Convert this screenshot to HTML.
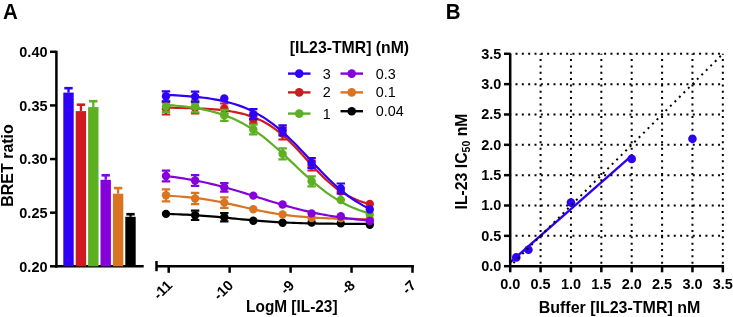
<!DOCTYPE html><html><head><meta charset="utf-8"><style>html,body{margin:0;padding:0;background:#fff;}svg{display:block;will-change:transform;}text{font-family:"Liberation Sans",sans-serif;}</style></head><body>
<svg width="733" height="317" viewBox="0 0 733 317">
<text transform="translate(3,18.8) scale(1,1.09)" font-size="20.5" font-weight="bold">A</text>
<text transform="translate(445.7,18.8) scale(1,1.09)" font-size="20.5" font-weight="bold">B</text>
<line x1="56.4" y1="50.8" x2="56.4" y2="267.55" stroke="#000" stroke-width="2.5"/>
<line x1="50" y1="51.80" x2="56.4" y2="51.80" stroke="#000" stroke-width="2.5"/>
<text transform="translate(47.5,57.00) scale(1,1.07)" font-size="14.5" font-weight="bold" text-anchor="end">0.40</text>
<line x1="50" y1="105.43" x2="56.4" y2="105.43" stroke="#000" stroke-width="2.5"/>
<text transform="translate(47.5,110.63) scale(1,1.07)" font-size="14.5" font-weight="bold" text-anchor="end">0.35</text>
<line x1="50" y1="159.05" x2="56.4" y2="159.05" stroke="#000" stroke-width="2.5"/>
<text transform="translate(47.5,164.25) scale(1,1.07)" font-size="14.5" font-weight="bold" text-anchor="end">0.30</text>
<line x1="50" y1="212.68" x2="56.4" y2="212.68" stroke="#000" stroke-width="2.5"/>
<text transform="translate(47.5,217.88) scale(1,1.07)" font-size="14.5" font-weight="bold" text-anchor="end">0.25</text>
<line x1="50" y1="266.30" x2="56.4" y2="266.30" stroke="#000" stroke-width="2.5"/>
<text transform="translate(47.5,271.50) scale(1,1.07)" font-size="14.5" font-weight="bold" text-anchor="end">0.20</text>
<line x1="55.15" y1="266.3" x2="143.7" y2="266.3" stroke="#000" stroke-width="2.5"/>
<text transform="translate(12.5,165.5) rotate(-90)" font-size="16" font-weight="bold" text-anchor="middle">BRET ratio</text>
<rect x="63.3" y="92.6" width="10.4" height="173.70000000000002" fill="#2f00f5"/>
<line x1="68.5" y1="87.9" x2="68.5" y2="92.6" stroke="#2f00f5" stroke-width="2.3"/>
<line x1="64.3" y1="88.2" x2="72.7" y2="88.2" stroke="#2f00f5" stroke-width="2.6"/>
<rect x="75.7" y="111.1" width="10.4" height="155.20000000000002" fill="#cf1a1f"/>
<line x1="80.9" y1="104.4" x2="80.9" y2="111.1" stroke="#cf1a1f" stroke-width="2.3"/>
<line x1="76.7" y1="104.7" x2="85.10000000000001" y2="104.7" stroke="#cf1a1f" stroke-width="2.6"/>
<rect x="88.1" y="107.1" width="10.4" height="159.20000000000002" fill="#5cb021"/>
<line x1="93.3" y1="100.9" x2="93.3" y2="107.1" stroke="#5cb021" stroke-width="2.3"/>
<line x1="89.1" y1="101.2" x2="97.5" y2="101.2" stroke="#5cb021" stroke-width="2.6"/>
<rect x="100.5" y="179.8" width="10.4" height="86.5" fill="#8500da"/>
<line x1="105.7" y1="175.0" x2="105.7" y2="179.8" stroke="#8500da" stroke-width="2.3"/>
<line x1="101.5" y1="175.3" x2="109.9" y2="175.3" stroke="#8500da" stroke-width="2.6"/>
<rect x="112.9" y="193.7" width="10.4" height="72.60000000000002" fill="#da7421"/>
<line x1="118.10000000000001" y1="187.8" x2="118.10000000000001" y2="193.7" stroke="#da7421" stroke-width="2.3"/>
<line x1="113.9" y1="188.10000000000002" x2="122.30000000000001" y2="188.10000000000002" stroke="#da7421" stroke-width="2.6"/>
<rect x="125.3" y="216.8" width="10.4" height="49.5" fill="#000000"/>
<line x1="130.5" y1="213.9" x2="130.5" y2="216.8" stroke="#000000" stroke-width="2.3"/>
<line x1="126.3" y1="214.20000000000002" x2="134.7" y2="214.20000000000002" stroke="#000000" stroke-width="2.6"/>
<line x1="156.5" y1="266.3" x2="413.75" y2="266.3" stroke="#000" stroke-width="2.5"/>
<line x1="156.5" y1="261" x2="156.5" y2="271.2" stroke="#000" stroke-width="2.5"/>
<line x1="168.7" y1="266.3" x2="168.7" y2="272.8" stroke="#000" stroke-width="2.5"/>
<text transform="translate(173.20,286.2) rotate(-45)" font-size="14.5" font-weight="bold" text-anchor="end">-11</text>
<line x1="229.64999999999998" y1="266.3" x2="229.64999999999998" y2="272.8" stroke="#000" stroke-width="2.5"/>
<text transform="translate(234.15,286.2) rotate(-45)" font-size="14.5" font-weight="bold" text-anchor="end">-10</text>
<line x1="290.6" y1="266.3" x2="290.6" y2="272.8" stroke="#000" stroke-width="2.5"/>
<text transform="translate(295.10,286.2) rotate(-45)" font-size="14.5" font-weight="bold" text-anchor="end">-9</text>
<line x1="351.55" y1="266.3" x2="351.55" y2="272.8" stroke="#000" stroke-width="2.5"/>
<text transform="translate(356.05,286.2) rotate(-45)" font-size="14.5" font-weight="bold" text-anchor="end">-8</text>
<line x1="412.5" y1="265.05" x2="412.5" y2="272.8" stroke="#000" stroke-width="2.5"/>
<text transform="translate(417.00,286.2) rotate(-45)" font-size="14.5" font-weight="bold" text-anchor="end">-7</text>
<text transform="translate(291.8,311.6) scale(1,1.05)" font-size="15.4" font-weight="bold" text-anchor="middle">LogM [IL-23]</text>
<path d="M166.00,107.68 L169.45,107.72 L172.91,107.76 L176.36,107.82 L179.82,107.88 L183.27,107.95 L186.73,108.04 L190.18,108.13 L193.63,108.25 L197.09,108.38 L200.54,108.53 L204.00,108.70 L207.45,108.90 L210.91,109.13 L214.36,109.40 L217.81,109.71 L221.27,110.07 L224.72,110.48 L228.18,110.95 L231.63,111.49 L235.08,112.11 L238.54,112.82 L241.99,113.63 L245.45,114.55 L248.90,115.60 L252.36,116.78 L255.81,118.12 L259.26,119.63 L262.72,121.31 L266.17,123.19 L269.63,125.27 L273.08,127.56 L276.54,130.07 L279.99,132.80 L283.44,135.74 L286.90,138.88 L290.35,142.20 L293.81,145.69 L297.26,149.31 L300.72,153.04 L304.17,156.83 L307.62,160.64 L311.08,164.43 L314.53,168.17 L317.99,171.80 L321.44,175.30 L324.89,178.65 L328.35,181.80 L331.80,184.76 L335.26,187.51 L338.71,190.03 L342.17,192.35 L345.62,194.45 L349.07,196.34 L352.53,198.04 L355.98,199.57 L359.44,200.92 L362.89,202.12 L366.35,203.18 L369.80,204.11" fill="none" stroke="#cf1a1f" stroke-width="2.2"/>
<path d="M166.00,102.50V114.50M161.80,102.50h8.4M161.80,114.50h8.4" stroke="#cf1a1f" stroke-width="2.2" fill="none"/>
<circle cx="166.00" cy="108.50" r="4.2" fill="#cf1a1f"/>
<path d="M195.10,102.30V113.30M190.90,102.30h8.4M190.90,113.30h8.4" stroke="#cf1a1f" stroke-width="2.2" fill="none"/>
<circle cx="195.10" cy="107.80" r="4.2" fill="#cf1a1f"/>
<path d="M224.30,103.50V113.50M220.10,103.50h8.4M220.10,113.50h8.4" stroke="#cf1a1f" stroke-width="2.2" fill="none"/>
<circle cx="224.30" cy="108.50" r="4.2" fill="#cf1a1f"/>
<path d="M253.30,116.30V123.30M249.10,116.30h8.4M249.10,123.30h8.4" stroke="#cf1a1f" stroke-width="2.2" fill="none"/>
<circle cx="253.30" cy="119.80" r="4.2" fill="#cf1a1f"/>
<path d="M282.60,127.50V139.50M278.40,127.50h8.4M278.40,139.50h8.4" stroke="#cf1a1f" stroke-width="2.2" fill="none"/>
<circle cx="282.60" cy="133.50" r="4.2" fill="#cf1a1f"/>
<path d="M311.60,160.50V170.50M307.40,160.50h8.4M307.40,170.50h8.4" stroke="#cf1a1f" stroke-width="2.2" fill="none"/>
<circle cx="311.60" cy="165.50" r="4.2" fill="#cf1a1f"/>
<circle cx="340.80" cy="191.50" r="4.2" fill="#cf1a1f"/>
<circle cx="369.80" cy="204.00" r="4.2" fill="#cf1a1f"/>
<path d="M166.00,213.89 L169.45,213.99 L172.91,214.11 L176.36,214.24 L179.82,214.38 L183.27,214.53 L186.73,214.71 L190.18,214.89 L193.63,215.09 L197.09,215.31 L200.54,215.55 L204.00,215.80 L207.45,216.07 L210.91,216.35 L214.36,216.65 L217.81,216.96 L221.27,217.28 L224.72,217.61 L228.18,217.95 L231.63,218.29 L235.08,218.63 L238.54,218.98 L241.99,219.32 L245.45,219.65 L248.90,219.97 L252.36,220.29 L255.81,220.59 L259.26,220.88 L262.72,221.16 L266.17,221.41 L269.63,221.65 L273.08,221.88 L276.54,222.09 L279.99,222.28 L283.44,222.46 L286.90,222.62 L290.35,222.77 L293.81,222.90 L297.26,223.02 L300.72,223.13 L304.17,223.23 L307.62,223.32 L311.08,223.40 L314.53,223.47 L317.99,223.53 L321.44,223.59 L324.89,223.64 L328.35,223.68 L331.80,223.72 L335.26,223.76 L338.71,223.79 L342.17,223.82 L345.62,223.84 L349.07,223.87 L352.53,223.89 L355.98,223.90 L359.44,223.92 L362.89,223.93 L366.35,223.94 L369.80,223.95" fill="none" stroke="#000000" stroke-width="2.2"/>
<circle cx="166.00" cy="213.90" r="4.2" fill="#000000"/>
<path d="M195.10,210.60V220.00M190.90,210.60h8.4M190.90,220.00h8.4" stroke="#000000" stroke-width="2.2" fill="none"/>
<circle cx="195.10" cy="215.30" r="4.2" fill="#000000"/>
<path d="M224.30,213.00V221.40M220.10,213.00h8.4M220.10,221.40h8.4" stroke="#000000" stroke-width="2.2" fill="none"/>
<circle cx="224.30" cy="217.20" r="4.2" fill="#000000"/>
<circle cx="253.30" cy="220.70" r="4.2" fill="#000000"/>
<circle cx="282.60" cy="222.80" r="4.2" fill="#000000"/>
<circle cx="311.60" cy="222.50" r="4.2" fill="#000000"/>
<circle cx="340.80" cy="223.40" r="4.2" fill="#000000"/>
<circle cx="369.80" cy="224.80" r="4.2" fill="#000000"/>
<path d="M166.00,195.60 L169.45,195.79 L172.91,196.00 L176.36,196.23 L179.82,196.49 L183.27,196.78 L186.73,197.09 L190.18,197.44 L193.63,197.82 L197.09,198.24 L200.54,198.69 L204.00,199.18 L207.45,199.71 L210.91,200.27 L214.36,200.88 L217.81,201.52 L221.27,202.19 L224.72,202.89 L228.18,203.62 L231.63,204.37 L235.08,205.15 L238.54,205.93 L241.99,206.72 L245.45,207.51 L248.90,208.29 L252.36,209.06 L255.81,209.81 L259.26,210.55 L262.72,211.25 L266.17,211.92 L269.63,212.56 L273.08,213.17 L276.54,213.73 L279.99,214.26 L283.44,214.75 L286.90,215.21 L290.35,215.62 L293.81,216.01 L297.26,216.35 L300.72,216.67 L304.17,216.96 L307.62,217.22 L311.08,217.45 L314.53,217.66 L317.99,217.85 L321.44,218.02 L324.89,218.17 L328.35,218.31 L331.80,218.43 L335.26,218.54 L338.71,218.63 L342.17,218.72 L345.62,218.79 L349.07,218.86 L352.53,218.92 L355.98,218.97 L359.44,219.02 L362.89,219.06 L366.35,219.10 L369.80,219.13" fill="none" stroke="#da7421" stroke-width="2.2"/>
<path d="M166.00,189.30V201.30M161.80,189.30h8.4M161.80,201.30h8.4" stroke="#da7421" stroke-width="2.2" fill="none"/>
<circle cx="166.00" cy="195.30" r="4.2" fill="#da7421"/>
<path d="M195.10,192.80V204.20M190.90,192.80h8.4M190.90,204.20h8.4" stroke="#da7421" stroke-width="2.2" fill="none"/>
<circle cx="195.10" cy="198.50" r="4.2" fill="#da7421"/>
<path d="M224.30,197.30V207.90M220.10,197.30h8.4M220.10,207.90h8.4" stroke="#da7421" stroke-width="2.2" fill="none"/>
<circle cx="224.30" cy="202.60" r="4.2" fill="#da7421"/>
<circle cx="253.30" cy="209.20" r="4.2" fill="#da7421"/>
<circle cx="282.60" cy="214.50" r="4.2" fill="#da7421"/>
<circle cx="311.60" cy="218.10" r="4.2" fill="#da7421"/>
<circle cx="340.80" cy="218.40" r="4.2" fill="#da7421"/>
<circle cx="369.80" cy="219.00" r="4.2" fill="#da7421"/>
<path d="M166.00,104.93 L169.45,105.17 L172.91,105.44 L176.36,105.74 L179.82,106.07 L183.27,106.44 L186.73,106.85 L190.18,107.30 L193.63,107.81 L197.09,108.36 L200.54,108.97 L204.00,109.65 L207.45,110.39 L210.91,111.21 L214.36,112.11 L217.81,113.10 L221.27,114.18 L224.72,115.36 L228.18,116.65 L231.63,118.05 L235.08,119.57 L238.54,121.21 L241.99,122.98 L245.45,124.89 L248.90,126.93 L252.36,129.12 L255.81,131.44 L259.26,133.89 L262.72,136.48 L266.17,139.20 L269.63,142.04 L273.08,144.98 L276.54,148.03 L279.99,151.16 L283.44,154.35 L286.90,157.60 L290.35,160.88 L293.81,164.17 L297.26,167.45 L300.72,170.70 L304.17,173.91 L307.62,177.06 L311.08,180.13 L314.53,183.10 L317.99,185.96 L321.44,188.71 L324.89,191.33 L328.35,193.82 L331.80,196.17 L335.26,198.39 L338.71,200.46 L342.17,202.40 L345.62,204.21 L349.07,205.88 L352.53,207.43 L355.98,208.86 L359.44,210.17 L362.89,211.38 L366.35,212.48 L369.80,213.49" fill="none" stroke="#5cb021" stroke-width="2.2"/>
<path d="M166.00,100.90V111.90M161.80,100.90h8.4M161.80,111.90h8.4" stroke="#5cb021" stroke-width="2.2" fill="none"/>
<circle cx="166.00" cy="106.40" r="4.2" fill="#5cb021"/>
<path d="M195.10,100.30V112.30M190.90,100.30h8.4M190.90,112.30h8.4" stroke="#5cb021" stroke-width="2.2" fill="none"/>
<circle cx="195.10" cy="106.30" r="4.2" fill="#5cb021"/>
<path d="M224.30,109.90V120.90M220.10,109.90h8.4M220.10,120.90h8.4" stroke="#5cb021" stroke-width="2.2" fill="none"/>
<circle cx="224.30" cy="115.40" r="4.2" fill="#5cb021"/>
<path d="M253.30,124.70V134.30M249.10,124.70h8.4M249.10,134.30h8.4" stroke="#5cb021" stroke-width="2.2" fill="none"/>
<circle cx="253.30" cy="129.50" r="4.2" fill="#5cb021"/>
<path d="M282.60,148.40V159.40M278.40,148.40h8.4M278.40,159.40h8.4" stroke="#5cb021" stroke-width="2.2" fill="none"/>
<circle cx="282.60" cy="153.90" r="4.2" fill="#5cb021"/>
<path d="M311.60,176.30V186.30M307.40,176.30h8.4M307.40,186.30h8.4" stroke="#5cb021" stroke-width="2.2" fill="none"/>
<circle cx="311.60" cy="181.30" r="4.2" fill="#5cb021"/>
<circle cx="340.80" cy="200.00" r="4.2" fill="#5cb021"/>
<circle cx="369.80" cy="214.40" r="4.2" fill="#5cb021"/>
<path d="M166.00,94.91 L169.45,95.05 L172.91,95.21 L176.36,95.39 L179.82,95.58 L183.27,95.80 L186.73,96.04 L190.18,96.32 L193.63,96.62 L197.09,96.96 L200.54,97.33 L204.00,97.75 L207.45,98.21 L210.91,98.73 L214.36,99.30 L217.81,99.93 L221.27,100.63 L224.72,101.41 L228.18,102.27 L231.63,103.21 L235.08,104.25 L238.54,105.40 L241.99,106.65 L245.45,108.03 L248.90,109.53 L252.36,111.17 L255.81,112.94 L259.26,114.87 L262.72,116.94 L266.17,119.18 L269.63,121.57 L273.08,124.13 L276.54,126.84 L279.99,129.71 L283.44,132.73 L286.90,135.89 L290.35,139.18 L293.81,142.59 L297.26,146.10 L300.72,149.69 L304.17,153.33 L307.62,157.02 L311.08,160.72 L314.53,164.42 L317.99,168.08 L321.44,171.69 L324.89,175.23 L328.35,178.67 L331.80,182.00 L335.26,185.20 L338.71,188.26 L342.17,191.18 L345.62,193.94 L349.07,196.55 L352.53,198.99 L355.98,201.28 L359.44,203.40 L362.89,205.37 L366.35,207.19 L369.80,208.87" fill="none" stroke="#2f00f5" stroke-width="2.2"/>
<path d="M166.00,91.30V101.30M161.80,91.30h8.4M161.80,101.30h8.4" stroke="#2f00f5" stroke-width="2.2" fill="none"/>
<circle cx="166.00" cy="96.30" r="4.2" fill="#2f00f5"/>
<path d="M195.10,91.60V101.60M190.90,91.60h8.4M190.90,101.60h8.4" stroke="#2f00f5" stroke-width="2.2" fill="none"/>
<circle cx="195.10" cy="96.60" r="4.2" fill="#2f00f5"/>
<circle cx="224.30" cy="98.40" r="4.2" fill="#2f00f5"/>
<path d="M253.30,109.20V119.20M249.10,109.20h8.4M249.10,119.20h8.4" stroke="#2f00f5" stroke-width="2.2" fill="none"/>
<circle cx="253.30" cy="114.20" r="4.2" fill="#2f00f5"/>
<path d="M282.60,125.30V135.30M278.40,125.30h8.4M278.40,135.30h8.4" stroke="#2f00f5" stroke-width="2.2" fill="none"/>
<circle cx="282.60" cy="130.30" r="4.2" fill="#2f00f5"/>
<path d="M311.60,158.00V168.00M307.40,158.00h8.4M307.40,168.00h8.4" stroke="#2f00f5" stroke-width="2.2" fill="none"/>
<circle cx="311.60" cy="163.00" r="4.2" fill="#2f00f5"/>
<path d="M340.80,183.50V193.50M336.60,183.50h8.4M336.60,193.50h8.4" stroke="#2f00f5" stroke-width="2.2" fill="none"/>
<circle cx="340.80" cy="188.50" r="4.2" fill="#2f00f5"/>
<circle cx="369.80" cy="209.50" r="4.2" fill="#2f00f5"/>
<path d="M166.00,176.06 L169.45,176.47 L172.91,176.91 L176.36,177.38 L179.82,177.88 L183.27,178.41 L186.73,178.97 L190.18,179.57 L193.63,180.19 L197.09,180.85 L200.54,181.54 L204.00,182.27 L207.45,183.03 L210.91,183.83 L214.36,184.65 L217.81,185.51 L221.27,186.40 L224.72,187.33 L228.18,188.28 L231.63,189.25 L235.08,190.25 L238.54,191.27 L241.99,192.32 L245.45,193.37 L248.90,194.44 L252.36,195.52 L255.81,196.61 L259.26,197.70 L262.72,198.78 L266.17,199.86 L269.63,200.94 L273.08,202.00 L276.54,203.05 L279.99,204.08 L283.44,205.09 L286.90,206.08 L290.35,207.04 L293.81,207.97 L297.26,208.87 L300.72,209.75 L304.17,210.59 L307.62,211.39 L311.08,212.17 L314.53,212.91 L317.99,213.62 L321.44,214.29 L324.89,214.93 L328.35,215.53 L331.80,216.11 L335.26,216.65 L338.71,217.16 L342.17,217.64 L345.62,218.10 L349.07,218.52 L352.53,218.92 L355.98,219.30 L359.44,219.65 L362.89,219.97 L366.35,220.28 L369.80,220.57" fill="none" stroke="#8500da" stroke-width="2.2"/>
<path d="M166.00,170.60V181.40M161.80,170.60h8.4M161.80,181.40h8.4" stroke="#8500da" stroke-width="2.2" fill="none"/>
<circle cx="166.00" cy="176.00" r="4.2" fill="#8500da"/>
<path d="M195.10,175.10V185.90M190.90,175.10h8.4M190.90,185.90h8.4" stroke="#8500da" stroke-width="2.2" fill="none"/>
<circle cx="195.10" cy="180.50" r="4.2" fill="#8500da"/>
<path d="M224.30,183.10V191.70M220.10,183.10h8.4M220.10,191.70h8.4" stroke="#8500da" stroke-width="2.2" fill="none"/>
<circle cx="224.30" cy="187.40" r="4.2" fill="#8500da"/>
<circle cx="253.30" cy="195.60" r="4.2" fill="#8500da"/>
<circle cx="282.60" cy="204.50" r="4.2" fill="#8500da"/>
<circle cx="311.60" cy="213.40" r="4.2" fill="#8500da"/>
<circle cx="340.80" cy="216.30" r="4.2" fill="#8500da"/>
<circle cx="369.80" cy="221.00" r="4.2" fill="#8500da"/>
<text transform="translate(289.8,53.2) scale(1,1.07)" font-size="15.8" font-weight="bold">[IL23-TMR] (nM)</text>
<line x1="288" y1="73.6" x2="310.5" y2="73.6" stroke="#2f00f5" stroke-width="2.4"/>
<circle cx="299.2" cy="73.6" r="4.3" fill="#2f00f5"/>
<text transform="translate(322.7,78.60) scale(1,1.05)" font-size="14.4">3</text>
<line x1="288" y1="92.4" x2="310.5" y2="92.4" stroke="#cf1a1f" stroke-width="2.4"/>
<circle cx="299.2" cy="92.4" r="4.3" fill="#cf1a1f"/>
<text transform="translate(322.7,97.40) scale(1,1.05)" font-size="14.4">2</text>
<line x1="288" y1="113.6" x2="310.5" y2="113.6" stroke="#5cb021" stroke-width="2.4"/>
<circle cx="299.2" cy="113.6" r="4.3" fill="#5cb021"/>
<text transform="translate(322.7,118.60) scale(1,1.05)" font-size="14.4">1</text>
<line x1="340.5" y1="73.6" x2="363.0" y2="73.6" stroke="#8500da" stroke-width="2.4"/>
<circle cx="351.7" cy="73.6" r="4.3" fill="#8500da"/>
<text transform="translate(375.7,78.60) scale(1,1.05)" font-size="14.4">0.3</text>
<line x1="340.5" y1="92.4" x2="363.0" y2="92.4" stroke="#da7421" stroke-width="2.4"/>
<circle cx="351.7" cy="92.4" r="4.3" fill="#da7421"/>
<text transform="translate(375.7,97.40) scale(1,1.05)" font-size="14.4">0.1</text>
<line x1="340.5" y1="111.2" x2="363.0" y2="111.2" stroke="#000000" stroke-width="2.4"/>
<circle cx="351.7" cy="111.2" r="4.3" fill="#000000"/>
<text transform="translate(375.7,116.20) scale(1,1.05)" font-size="14.4">0.04</text>
<line x1="510.2" y1="262.3" x2="631.5" y2="155.9" stroke="#2f00f5" stroke-width="2.4"/>
<line x1="540.58" y1="53.78" x2="540.58" y2="266.20" stroke="#000" stroke-width="2" stroke-dasharray="2 4.33" stroke-dashoffset="-5.3"/>
<line x1="510.20" y1="235.85" x2="722.83" y2="235.85" stroke="#000" stroke-width="2" stroke-dasharray="2 4.33" stroke-dashoffset="-5.3"/>
<line x1="570.95" y1="53.78" x2="570.95" y2="266.20" stroke="#000" stroke-width="2" stroke-dasharray="2 4.33" stroke-dashoffset="-5.3"/>
<line x1="510.20" y1="205.51" x2="722.83" y2="205.51" stroke="#000" stroke-width="2" stroke-dasharray="2 4.33" stroke-dashoffset="-5.3"/>
<line x1="601.33" y1="53.78" x2="601.33" y2="266.20" stroke="#000" stroke-width="2" stroke-dasharray="2 4.33" stroke-dashoffset="-5.3"/>
<line x1="510.20" y1="175.16" x2="722.83" y2="175.16" stroke="#000" stroke-width="2" stroke-dasharray="2 4.33" stroke-dashoffset="-5.3"/>
<line x1="631.70" y1="53.78" x2="631.70" y2="266.20" stroke="#000" stroke-width="2" stroke-dasharray="2 4.33" stroke-dashoffset="-5.3"/>
<line x1="510.20" y1="144.82" x2="722.83" y2="144.82" stroke="#000" stroke-width="2" stroke-dasharray="2 4.33" stroke-dashoffset="-5.3"/>
<line x1="662.08" y1="53.78" x2="662.08" y2="266.20" stroke="#000" stroke-width="2" stroke-dasharray="2 4.33" stroke-dashoffset="-5.3"/>
<line x1="510.20" y1="114.47" x2="722.83" y2="114.47" stroke="#000" stroke-width="2" stroke-dasharray="2 4.33" stroke-dashoffset="-5.3"/>
<line x1="692.45" y1="53.78" x2="692.45" y2="266.20" stroke="#000" stroke-width="2" stroke-dasharray="2 4.33" stroke-dashoffset="-5.3"/>
<line x1="510.20" y1="84.13" x2="722.83" y2="84.13" stroke="#000" stroke-width="2" stroke-dasharray="2 4.33" stroke-dashoffset="-5.3"/>
<line x1="722.83" y1="53.78" x2="722.83" y2="266.20" stroke="#000" stroke-width="2" stroke-dasharray="2 4.33" stroke-dashoffset="-5.3"/>
<line x1="510.20" y1="53.78" x2="722.83" y2="53.78" stroke="#000" stroke-width="2" stroke-dasharray="2 4.33" stroke-dashoffset="-5.3"/>
<circle cx="516.27" cy="257.4" r="4.3" fill="#2f00f5"/>
<circle cx="528.42" cy="249.8" r="4.3" fill="#2f00f5"/>
<circle cx="570.95" cy="202.5" r="4.3" fill="#2f00f5"/>
<circle cx="631.70" cy="158.9" r="4.3" fill="#2f00f5"/>
<circle cx="692.45" cy="138.7" r="4.3" fill="#2f00f5"/>
<line x1="510.2" y1="266.2" x2="722.83" y2="53.78" stroke="#000" stroke-width="2" stroke-dasharray="2 4.33" stroke-dashoffset="1.8"/>
<line x1="510.2" y1="53.785" x2="510.2" y2="267.45" stroke="#000" stroke-width="2.5"/>
<line x1="508.95" y1="266.2" x2="724.075" y2="266.2" stroke="#000" stroke-width="2.5"/>
<line x1="504" y1="266.20" x2="510.2" y2="266.20" stroke="#000" stroke-width="2.5"/>
<text transform="translate(501.3,271.00) scale(1,1.07)" font-size="14.5" font-weight="bold" text-anchor="end">0.0</text>
<line x1="510.20" y1="266.2" x2="510.20" y2="272.3" stroke="#000" stroke-width="2.5"/>
<text transform="translate(510.20,289.1) scale(1,1.07)" font-size="14.5" font-weight="bold" text-anchor="middle">0.0</text>
<line x1="504" y1="235.85" x2="510.2" y2="235.85" stroke="#000" stroke-width="2.5"/>
<text transform="translate(501.3,240.66) scale(1,1.07)" font-size="14.5" font-weight="bold" text-anchor="end">0.5</text>
<line x1="540.58" y1="266.2" x2="540.58" y2="272.3" stroke="#000" stroke-width="2.5"/>
<text transform="translate(540.58,289.1) scale(1,1.07)" font-size="14.5" font-weight="bold" text-anchor="middle">0.5</text>
<line x1="504" y1="205.51" x2="510.2" y2="205.51" stroke="#000" stroke-width="2.5"/>
<text transform="translate(501.3,210.31) scale(1,1.07)" font-size="14.5" font-weight="bold" text-anchor="end">1.0</text>
<line x1="570.95" y1="266.2" x2="570.95" y2="272.3" stroke="#000" stroke-width="2.5"/>
<text transform="translate(570.95,289.1) scale(1,1.07)" font-size="14.5" font-weight="bold" text-anchor="middle">1.0</text>
<line x1="504" y1="175.16" x2="510.2" y2="175.16" stroke="#000" stroke-width="2.5"/>
<text transform="translate(501.3,179.97) scale(1,1.07)" font-size="14.5" font-weight="bold" text-anchor="end">1.5</text>
<line x1="601.33" y1="266.2" x2="601.33" y2="272.3" stroke="#000" stroke-width="2.5"/>
<text transform="translate(601.33,289.1) scale(1,1.07)" font-size="14.5" font-weight="bold" text-anchor="middle">1.5</text>
<line x1="504" y1="144.82" x2="510.2" y2="144.82" stroke="#000" stroke-width="2.5"/>
<text transform="translate(501.3,149.62) scale(1,1.07)" font-size="14.5" font-weight="bold" text-anchor="end">2.0</text>
<line x1="631.70" y1="266.2" x2="631.70" y2="272.3" stroke="#000" stroke-width="2.5"/>
<text transform="translate(631.70,289.1) scale(1,1.07)" font-size="14.5" font-weight="bold" text-anchor="middle">2.0</text>
<line x1="504" y1="114.47" x2="510.2" y2="114.47" stroke="#000" stroke-width="2.5"/>
<text transform="translate(501.3,119.27) scale(1,1.07)" font-size="14.5" font-weight="bold" text-anchor="end">2.5</text>
<line x1="662.08" y1="266.2" x2="662.08" y2="272.3" stroke="#000" stroke-width="2.5"/>
<text transform="translate(662.08,289.1) scale(1,1.07)" font-size="14.5" font-weight="bold" text-anchor="middle">2.5</text>
<line x1="504" y1="84.13" x2="510.2" y2="84.13" stroke="#000" stroke-width="2.5"/>
<text transform="translate(501.3,88.93) scale(1,1.07)" font-size="14.5" font-weight="bold" text-anchor="end">3.0</text>
<line x1="692.45" y1="266.2" x2="692.45" y2="272.3" stroke="#000" stroke-width="2.5"/>
<text transform="translate(692.45,289.1) scale(1,1.07)" font-size="14.5" font-weight="bold" text-anchor="middle">3.0</text>
<line x1="504" y1="53.78" x2="510.2" y2="53.78" stroke="#000" stroke-width="2.5"/>
<text transform="translate(501.3,58.58) scale(1,1.07)" font-size="14.5" font-weight="bold" text-anchor="end">3.5</text>
<line x1="722.83" y1="266.2" x2="722.83" y2="272.3" stroke="#000" stroke-width="2.5"/>
<text transform="translate(722.83,289.1) scale(1,1.07)" font-size="14.5" font-weight="bold" text-anchor="middle">3.5</text>
<text transform="translate(619.5,312.9) scale(1,1.05)" font-size="16" font-weight="bold" text-anchor="middle">Buffer [IL23-TMR] nM</text>
<text transform="translate(466.9,161.5) rotate(-90)" font-size="15.8" font-weight="bold" text-anchor="middle">IL-23 IC<tspan font-size="10.5" dy="3.2">50</tspan><tspan dy="-3.2"> nM</tspan></text>
</svg></body></html>
